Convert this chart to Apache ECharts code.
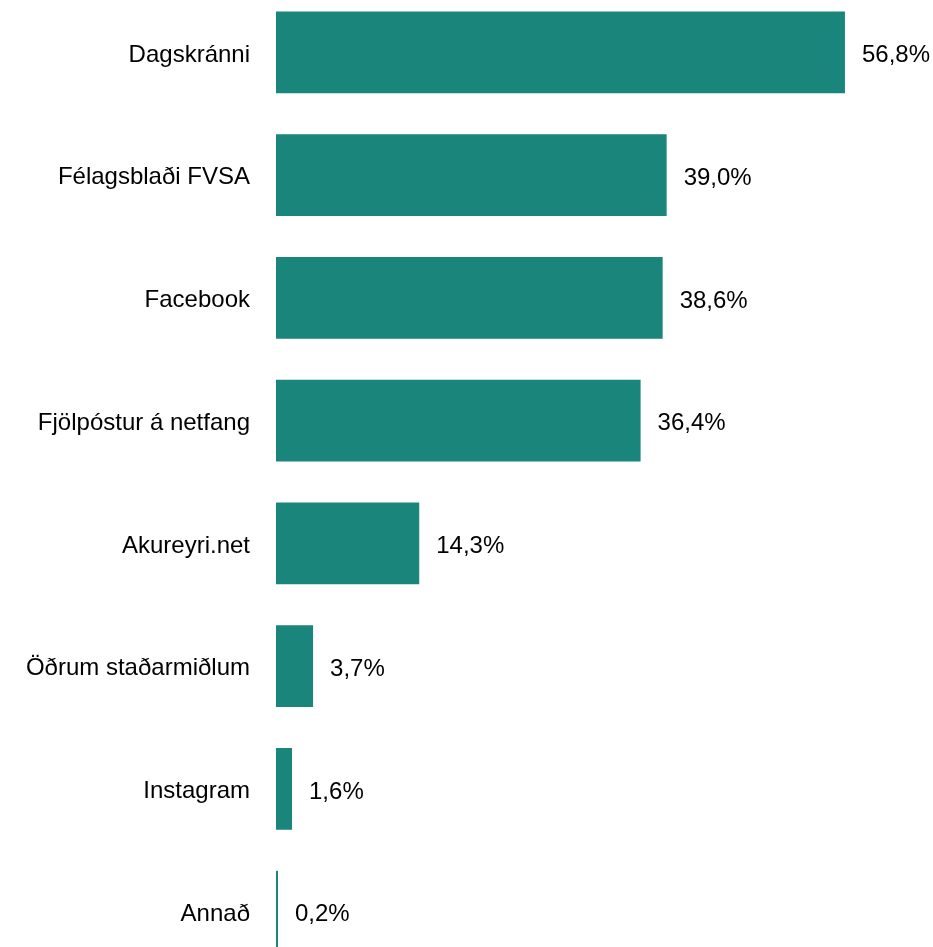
<!DOCTYPE html>
<html><head><meta charset="utf-8">
<script src="https://cdn.jsdelivr.net/npm/echarts@6/dist/echarts.min.js"></script>
<style>html,body{margin:0;padding:0;background:#fff;}#c{width:933px;height:947px;}</style>
</head><body><div id="c"></div>
<script>
const categories = ["Dagskránni","Félagsblaði FVSA","Facebook","Fjölpóstur á netfang","Akureyri.net","Öðrum staðarmiðlum","Instagram","Annað"];
const values = [56.8, 39.0, 38.6, 36.4, 14.3, 3.7, 1.6, 0.2];
const chart = echarts.init(document.getElementById('c'));
chart.setOption({
  animation:false,
  grid:{left:276, right:56, top:-9, height:982, containLabel:false, outerBoundsMode:'none'},
  xAxis:{type:'value', min:0, max:60, show:false},
  yAxis:{type:'category', inverse:true, data:categories,
    axisLine:{show:false}, axisTick:{show:false}, splitLine:{show:false},
    axisLabel:{margin:26, color:'#000', fontSize:24, fontFamily:'Arial, Liberation Sans',
      formatter:v=>'{a|'+v+'}',
      rich:{a:{fontSize:24, fontFamily:'Arial, Liberation Sans', color:'#000', padding:[5,0,0,0]}}}},
  series:[{type:'bar', data:values, barCategoryGap:'33.6%',
    itemStyle:{color:'#1a857a'},
    label:{show:true, position:'right', distance:17, offset:[0,3], color:'#000', fontSize:24, fontFamily:'Arial, Liberation Sans',
      formatter:p=>p.value.toFixed(1).replace('.',',')+'%'}}]
});
</script></body></html>
